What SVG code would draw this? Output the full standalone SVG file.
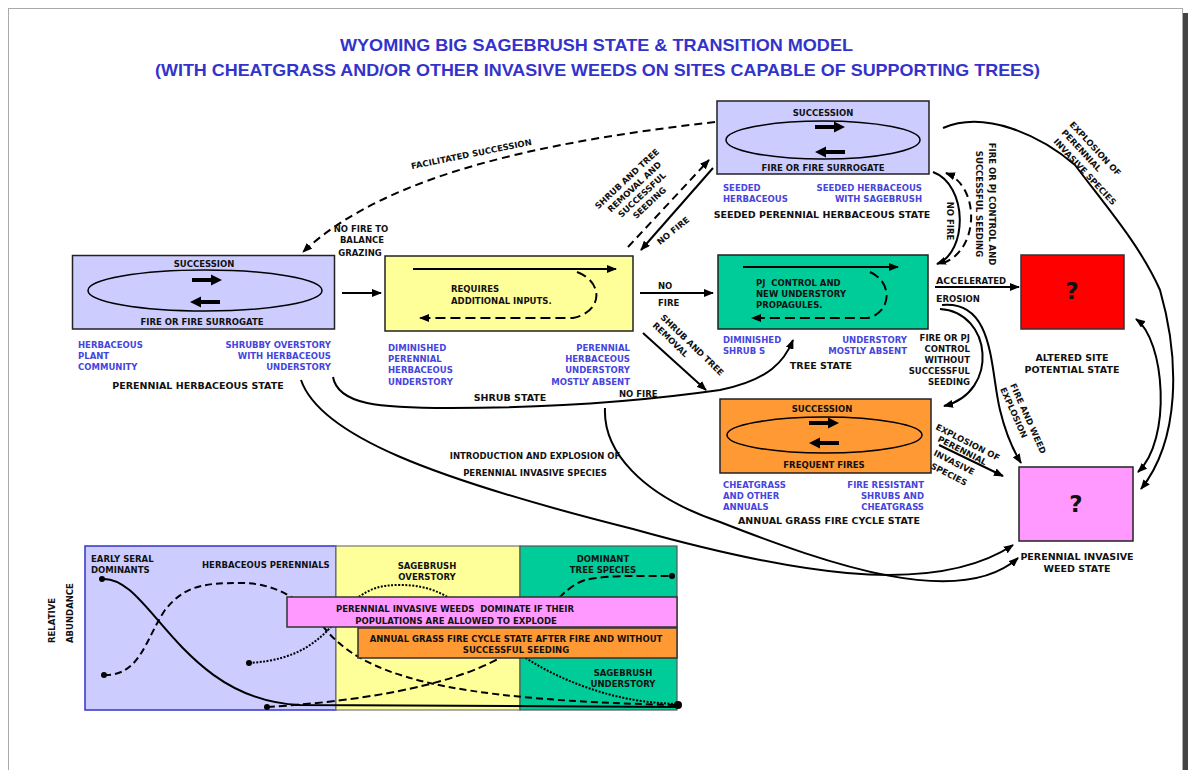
<svg xmlns="http://www.w3.org/2000/svg" width="1190" height="770" viewBox="0 0 1190 770">
<defs>
<style>
.t{font-family:"DejaVu Sans",Verdana,sans-serif;font-weight:bold;font-size:8.5px;fill:#111}
.s{font-size:9.5px}
.b{fill:#4545dd}
.m{text-anchor:middle}
.e{text-anchor:end}
.ttl{font-family:"Liberation Sans",Arial,sans-serif;font-weight:bold;font-size:17px;fill:#3333cc;text-anchor:middle}
.c{fill:none;stroke:#000;stroke-width:2}
.d{stroke-dasharray:8 5}
.bx{stroke:#222;stroke-width:1.5}
.el{fill:none;stroke:#000;stroke-width:1.5}
.q{font-family:"DejaVu Sans",Verdana,sans-serif;font-weight:bold;font-size:23px;fill:#111;text-anchor:middle}
</style>
<marker id="ah" viewBox="0 0 10 8" refX="9" refY="4" markerWidth="10" markerHeight="8" markerUnits="userSpaceOnUse" orient="auto-start-reverse"><path d="M0,0 L10,4 L0,8 z" fill="#000"/></marker>
<path id="fa" d="M0,-2 H19 V-5.5 L30,0 L19,5.5 V2 H0 Z" fill="#000"/>
</defs>

<g id="page">
<rect x="8.5" y="8.5" width="1174" height="780" fill="#fff" stroke="#aaa" stroke-width="1"/>
<rect x="1183" y="13" width="5" height="770" fill="#444"/>
</g>

<g id="title">
<text class="ttl" x="596.5" y="51" textLength="513" lengthAdjust="spacingAndGlyphs">WYOMING BIG SAGEBRUSH STATE &amp; TRANSITION MODEL</text>
<text class="ttl" x="597.5" y="76" textLength="885" lengthAdjust="spacingAndGlyphs">(WITH CHEATGRASS AND/OR OTHER INVASIVE WEEDS ON SITES CAPABLE OF SUPPORTING TREES)</text>
</g>

<g id="state-perennial-herbaceous">
<rect class="bx" x="72.5" y="255.5" width="262" height="73.5" fill="#ccccff"/>
<ellipse class="el" cx="205" cy="290.5" rx="117" ry="20.5"/>
<text class="t m" x="204" y="266.5">SUCCESSION</text>
<use href="#fa" transform="translate(192,280)"/>
<use href="#fa" transform="translate(220,302) scale(-1,1)"/>
<text class="t m" x="202" y="324.5">FIRE OR FIRE SURROGATE</text>
<text class="t b" x="78" y="347.5">HERBACEOUS</text>
<text class="t b" x="78" y="358.5">PLANT</text>
<text class="t b" x="78" y="369.5">COMMUNITY</text>
<text class="t b e" x="331" y="347.5">SHRUBBY OVERSTORY</text>
<text class="t b e" x="331" y="358.5">WITH HERBACEOUS</text>
<text class="t b e" x="331" y="369.5">UNDERSTORY</text>
<text class="t s m" x="198" y="388.5">PERENNIAL HERBACEOUS STATE</text>
</g>

<g id="state-shrub">
<rect class="bx" x="385" y="256" width="248" height="75" fill="#ffff99"/>
<path class="c" d="M413,269 H616" marker-end="url(#ah)"/>
<path class="c" d="M577,272 C604,282 603,312 573,318 L420,318" stroke-dasharray="10 5" marker-end="url(#ah)"/>
<text class="t" x="451" y="291.5">REQUIRES</text>
<text class="t" x="451" y="303.5">ADDITIONAL INPUTS.</text>
<text class="t b" x="388" y="350.5">DIMINISHED</text>
<text class="t b" x="388" y="361.5">PERENNIAL</text>
<text class="t b" x="388" y="372.5">HERBACEOUS</text>
<text class="t b" x="388" y="384.5">UNDERSTORY</text>
<text class="t b e" x="630" y="350.5">PERENNIAL</text>
<text class="t b e" x="630" y="361.5">HERBACEOUS</text>
<text class="t b e" x="630" y="372.5">UNDERSTORY</text>
<text class="t b e" x="630" y="384.5">MOSTLY ABSENT</text>
<text class="t s m" x="510" y="400.5">SHRUB STATE</text>
</g>

<g id="state-tree">
<rect class="bx" x="718" y="255" width="210" height="74" fill="#00cc99"/>
<path class="c" d="M743,267 H898" marker-end="url(#ah)"/>
<path class="c" d="M870,272 C893,282 892,312 868,318 L752,318" stroke-dasharray="10 5" marker-end="url(#ah)"/>
<text class="t" x="756" y="285.5" xml:space="preserve">PJ  CONTROL AND</text>
<text class="t" x="756" y="296.5">NEW UNDERSTORY</text>
<text class="t" x="756" y="307.5">PROPAGULES.</text>
<text class="t b" x="723" y="342.5">DIMINISHED</text>
<text class="t b" x="723" y="353.5">SHRUB S</text>
<text class="t b e" x="907" y="342.5">UNDERSTORY</text>
<text class="t b e" x="907" y="353.5">MOSTLY ABSENT</text>
<text class="t s m" x="821" y="368.5">TREE STATE</text>
</g>

<g id="state-seeded-perennial-herbaceous">
<rect class="bx" x="717" y="101" width="212" height="73" fill="#ccccff"/>
<ellipse class="el" cx="823" cy="140" rx="97" ry="19"/>
<text class="t m" x="823" y="115.5">SUCCESSION</text>
<use href="#fa" transform="translate(815,127)"/>
<use href="#fa" transform="translate(845,152) scale(-1,1)"/>
<text class="t m" x="823" y="170.5">FIRE OR FIRE SURROGATE</text>
<text class="t b" x="723" y="190.5">SEEDED</text>
<text class="t b" x="723" y="201.5">HERBACEOUS</text>
<text class="t b e" x="922" y="190.5">SEEDED HERBACEOUS</text>
<text class="t b e" x="922" y="201.5">WITH SAGEBRUSH</text>
<text class="t s m" x="822" y="217.5">SEEDED PERENNIAL HERBACEOUS STATE</text>
</g>

<g id="state-annual-grass">
<rect class="bx" x="720" y="399" width="211" height="74" fill="#ff9933"/>
<ellipse class="el" cx="824.5" cy="435" rx="97.5" ry="18"/>
<text class="t m" x="822" y="411.5">SUCCESSION</text>
<use href="#fa" transform="translate(809,423)"/>
<use href="#fa" transform="translate(839,443) scale(-1,1)"/>
<text class="t m" x="824" y="467.5">FREQUENT FIRES</text>
<text class="t b" x="723" y="487.5">CHEATGRASS</text>
<text class="t b" x="723" y="498.5">AND OTHER</text>
<text class="t b" x="723" y="509.5">ANNUALS</text>
<text class="t b e" x="924" y="487.5">FIRE RESISTANT</text>
<text class="t b e" x="924" y="498.5">SHRUBS AND</text>
<text class="t b e" x="924" y="509.5">CHEATGRASS</text>
<text class="t s m" x="829" y="523.5">ANNUAL GRASS FIRE CYCLE STATE</text>
</g>

<g id="state-altered-site">
<rect x="1021" y="255" width="103" height="74" fill="#ff0000" stroke="#333" stroke-width="1.5"/>
<text class="q" x="1072" y="299">?</text>
<text class="t s m" x="1072" y="360.5">ALTERED SITE</text>
<text class="t s m" x="1072" y="372.5">POTENTIAL STATE</text>
</g>

<g id="state-perennial-invasive">
<rect x="1019" y="467" width="114" height="74" fill="#ff99ff" stroke="#222" stroke-width="1.5"/>
<text class="q" x="1076" y="512">?</text>
<text class="t s m" x="1077" y="559.5">PERENNIAL INVASIVE</text>
<text class="t s m" x="1077" y="571.5">WEED STATE</text>
</g>

<g id="connectors">
<path class="c" d="M342,293 H381" marker-end="url(#ah)"/>
<path class="c" d="M640,293 H713" marker-end="url(#ah)"/>
<path class="c d" d="M715,122 C560,140 390,170 303,252" marker-end="url(#ah)"/>
<path class="c d" d="M628,247 L709,160" marker-end="url(#ah)"/>
<path class="c" d="M713,168 L641,250" marker-end="url(#ah)"/>
<path class="c" d="M933,172 C968,185 968,252 937,264" marker-end="url(#ah)"/>
<path class="c d" d="M943,263 C980,250 980,186 946,173" marker-end="url(#ah)"/>
<path class="c" d="M935,287 H1019" marker-end="url(#ah)"/>
<path class="c" d="M940,309 C992,312 1000,392 944,406" marker-end="url(#ah)"/>
<path class="c" d="M942,305 C995,300 990,370 1000,410 C1006,435 1013,450 1021,463" marker-end="url(#ah)"/>
<path class="c" d="M939,445 L1003,476" marker-end="url(#ah)"/>
<path class="c" d="M301,380 C320,435 430,478 633,529 C780,570 930,600 1013,545" marker-end="url(#ah)"/>
<path class="c" d="M605,408 C603,450 640,495 720,522 C830,565 960,610 1018,558" marker-end="url(#ah)"/>
<path class="c" d="M333,377 C338,405 380,408 450,408 C560,408 650,400 720,390 C770,380 785,360 793,340" marker-end="url(#ah)"/>
<path class="c" d="M643,333 L706,390" marker-end="url(#ah)"/>
<path class="c" d="M943,128 C985,110 1040,135 1075,165 C1105,205 1140,245 1160,290 C1180,360 1180,440 1141,489" marker-end="url(#ah)"/>
<path class="c" d="M1136,319 C1165,340 1172,440 1138,472" marker-start="url(#ah)" marker-end="url(#ah)"/>
</g>

<g id="connector-labels">
<text class="t m" x="361" y="231.5">NO FIRE TO</text>
<text class="t m" x="362" y="242.5">BALANCE</text>
<text class="t m" x="360" y="255.5">GRAZING</text>
<text class="t m" transform="translate(472,157) rotate(-11.5)">FACILITATED SUCCESSION</text>
<text class="t m" transform="translate(629,181) rotate(-43)">SHRUB AND TREE</text>
<text class="t m" transform="translate(636.5,189) rotate(-43)">REMOVAL AND</text>
<text class="t m" transform="translate(644,197) rotate(-43)">SUCCESSFUL</text>
<text class="t m" transform="translate(651.5,205) rotate(-43)">SEEDING</text>
<text class="t m" transform="translate(675,233) rotate(-39)">NO FIRE</text>
<text class="t" x="658" y="288.5">NO</text>
<text class="t" x="658" y="305.5">FIRE</text>
<text class="t" transform="translate(660,318) rotate(44)">SHRUB AND TREE</text>
<text class="t" transform="translate(652,326) rotate(44)">REMOVAL</text>
<text class="t" x="619" y="397">NO FIRE</text>
<text class="t m" x="535" y="458.5">INTRODUCTION AND EXPLOSION OF</text>
<text class="t m" x="535" y="475.5">PERENNIAL INVASIVE SPECIES</text>
<text class="t m" transform="translate(947,221) rotate(90)">NO FIRE</text>
<text class="t m" transform="translate(989,204) rotate(90)">FIRE OR PJ CONTROL AND</text>
<text class="t m" transform="translate(976,204) rotate(90)">SUCCESSFUL SEEDING</text>
<text class="t" transform="translate(1069,125) rotate(47)">EXPLOSION OF</text>
<text class="t" transform="translate(1061,133) rotate(47)">PERENNIAL</text>
<text class="t" transform="translate(1053,142) rotate(47)">INVASIVE SPECIES</text>
<text class="t" x="936" y="284"><tspan font-size="9.5">ACCE</tspan>LERATED</text>
<text class="t" x="936" y="302"><tspan font-size="9.5">E</tspan>ROSION</text>
<text class="t e" x="970" y="341">FIRE OR PJ</text>
<text class="t e" x="970" y="352">CONTROL</text>
<text class="t e" x="970" y="363">WITHOUT</text>
<text class="t e" x="970" y="374">SUCCESSFUL</text>
<text class="t e" x="970" y="385">SEEDING</text>
<text class="t" transform="translate(1010,385) rotate(66)">FIRE AND WEED</text>
<text class="t" transform="translate(1000,389) rotate(66)">EXPLOSION</text>
<text class="t" transform="translate(935,429) rotate(27)">EXPLOSION OF</text>
<text class="t" transform="translate(937,441) rotate(27)">PERENNIAL</text>
<text class="t" transform="translate(933,455) rotate(27)">INVASIVE</text>
<text class="t" transform="translate(930,468) rotate(27)">SPECIES</text>
</g>

<g id="abundance-chart">
<rect x="85" y="546" width="251" height="164" fill="#ccccff" stroke="#3333cc" stroke-width="1.5"/>
<rect x="336" y="546" width="184" height="164" fill="#ffff99" stroke="#777" stroke-width="1.2"/>
<rect x="520" y="546" width="157" height="164" fill="#00cc99" stroke="#555" stroke-width="1.2"/>
<path class="c" d="M102,579 C150,575 180,700 300,705 L678,707"/>
<path class="c" stroke-dasharray="7 4" d="M104,675 C140,676 145,640 165,610 C185,585 205,583 240,583 C275,583 300,598 322,625 C360,675 440,700 678,705"/>
<path class="c" stroke-width="1.8" stroke-dasharray="2 1.5" d="M249,663 C300,660 322,640 345,610 C365,588 380,585 400,585 C430,585 450,595 470,615 C510,650 540,670 580,685 C620,700 650,703 678,704"/>
<path class="c" stroke-dasharray="8 4" d="M267,707 C350,702 450,688 505,655 C540,630 555,590 585,580 C605,575 640,576 672,576"/>
<circle cx="102" cy="579" r="3"/>
<circle cx="104" cy="675" r="3"/>
<circle cx="249" cy="663" r="3"/>
<circle cx="267" cy="707" r="3"/>
<circle cx="672" cy="576" r="3"/>
<circle cx="678" cy="705" r="4"/>
<rect x="287" y="597" width="390" height="30" fill="#ff99ff" stroke="#333" stroke-width="1.5"/>
<rect x="358" y="628" width="319" height="30" fill="#ff9933" stroke="#333" stroke-width="1.5"/>
<text class="t m" x="455" y="611.5" font-size="8.6" xml:space="preserve">PERENNIAL INVASIVE WEEDS  DOMINATE IF THEIR</text>
<text class="t m" x="456" y="623.5" font-size="8.6">POPULATIONS ARE ALLOWED TO EXPLODE</text>
<text class="t m" x="516" y="641.5" font-size="8.6">ANNUAL GRASS FIRE CYCLE STATE AFTER FIRE AND WITHOUT</text>
<text class="t m" x="516" y="652.5" font-size="8.6">SUCCESSFUL SEEDING</text>
<text class="t" x="91" y="561.5">EARLY SERAL</text>
<text class="t" x="91" y="572.5">DOMINANTS</text>
<text class="t" x="202" y="567.5">HERBACEOUS PERENNIALS</text>
<text class="t m" x="427" y="568.5">SAGEBRUSH</text>
<text class="t m" x="427" y="579.5">OVERSTORY</text>
<text class="t m" x="603" y="561.5">DOMINANT</text>
<text class="t m" x="603" y="572.5">TREE SPECIES</text>
<text class="t m" x="623" y="675.5">SAGEBRUSH</text>
<text class="t m" x="623" y="686.5">UNDERSTORY</text>
<text class="t" font-size="8.3" transform="translate(55,643) rotate(-90)">RELATIVE</text>
<text class="t" font-size="8.3" transform="translate(73,643) rotate(-90)">ABUNDANCE</text>
</g>
</svg>
